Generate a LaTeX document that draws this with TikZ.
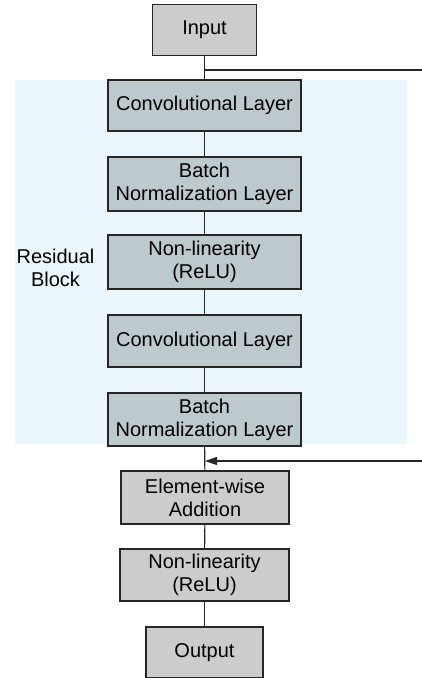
\documentclass[tikz,border=0pt]{standalone}
\usepackage{fontspec}
\setmainfont{Liberation Sans}
\usetikzlibrary{arrows.meta}
\definecolor{graybox}{HTML}{CCCCCC}
\definecolor{bluebox}{HTML}{BCC9CD}
\definecolor{blockbg}{HTML}{E9F7FD}
\begin{document}
\begin{tikzpicture}[x=1pt,y=-1pt,
  box/.style={draw=black!85, line width=1.3pt, inner sep=0pt, align=center,
    font=\fontsize{20}{23}\selectfont},
  gbox/.style={box, fill=graybox},
  bbox/.style={box, fill=bluebox, minimum width=193pt},
  conn/.style={line width=1.1pt, draw=black!85}]
\useasboundingbox (0,0) rectangle (422,678);
\fill[blockbg] (15,80) rectangle (407,444);
\node[font=\fontsize{20}{23}\selectfont, align=center] (rb) at (55.5,268) {Residual\\Block};
\node[gbox, minimum width=104pt, minimum height=51pt] (input) at (204.5,30) {Input};
\node[bbox, minimum height=51pt] (conv1) at (204.5,105.5) {Convolutional Layer};
\node[bbox, minimum height=54pt] (bn1) at (204.5,184) {Batch\\Normalization Layer};
\node[bbox, minimum height=54pt] (relu1) at (204.5,262) {Non-linearity\\(ReLU)};
\node[bbox, minimum height=52pt] (conv2) at (204.5,341) {Convolutional Layer};
\node[bbox, minimum height=53pt] (bn2) at (204.5,419.5) {Batch\\Normalization Layer};
\node[gbox, minimum width=168pt, minimum height=53pt] (add) at (205,497.5) {Element-wise\\Addition};
\node[gbox, minimum width=169pt, minimum height=52pt] (relu2) at (204.5,575) {Non-linearity\\(ReLU)};
\node[gbox, minimum width=117pt, minimum height=51pt] (output) at (204.5,652.5) {Output};
\draw[conn] (input) -- (conv1);
\draw[conn] (conv1) -- (bn1);
\draw[conn] (bn1) -- (relu1);
\draw[conn] (relu1) -- (conv2);
\draw[conn] (conv2) -- (bn2);
\draw[conn] (bn2) -- (add);
\draw[conn] (add) -- (relu2);
\draw[conn] (relu2) -- (output);
\coordinate (s1) at (204.5,70);
\coordinate (s1r) at (422,70);
\coordinate (s2) at (205,461);
\coordinate (s2r) at (422,461);
\draw[conn] (s1) -- (s1r);
\draw[conn, -{Triangle[length=12pt,width=8pt]}] (s2r) -- (s2);
\end{tikzpicture}
\end{document}
